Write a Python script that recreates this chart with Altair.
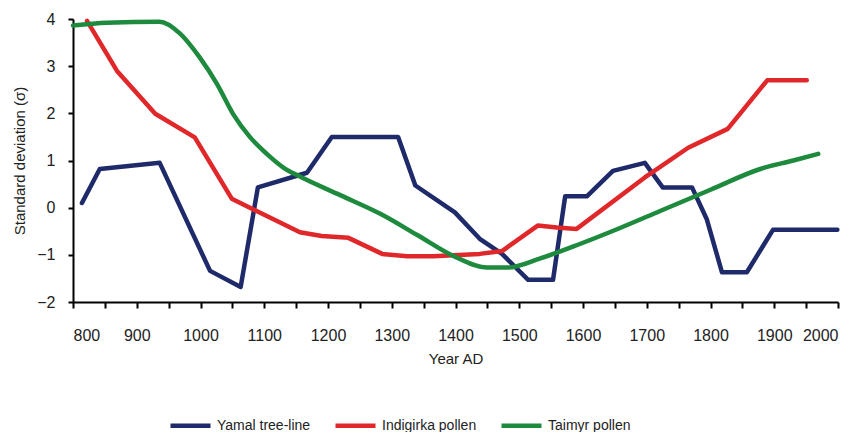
import altair as alt
import pandas as pd

series_names = ["Yamal tree-line", "Indigirka pollen", "Taimyr pollen"]
series_colors = ["#1f2a6b", "#e0282b", "#1e8a3d"]

yamal_year = [814, 842, 936, 1015, 1063, 1090, 1167, 1206, 1310, 1337, 1399, 1438, 1473,
              1514, 1553, 1572, 1606, 1647, 1697, 1725, 1771, 1794, 1818, 1857, 1898, 1999]
yamal_val = [0.1, 0.82, 0.95, -1.34, -1.68, 0.43, 0.74, 1.5, 1.5, 0.47, -0.1, -0.66, -0.98,
             -1.53, -1.53, 0.24, 0.24, 0.78, 0.95, 0.43, 0.43, -0.24, -1.37, -1.37, -0.47, -0.47]

indig_year = [822, 869, 929, 991, 1049, 1100, 1156, 1190, 1232, 1285, 1324, 1365, 1438, 1473,
              1529, 1559, 1590, 1697, 1765, 1827, 1889, 1951]
indig_val = [3.96, 2.9, 1.99, 1.49, 0.19, -0.15, -0.52, -0.6, -0.64, -0.98, -1.03, -1.03, -0.98,
             -0.92, -0.38, -0.42, -0.45, 0.64, 1.27, 1.67, 2.7, 2.7]

taimyr_year = [800, 853, 936, 968, 999, 1026, 1051, 1078, 1104, 1130, 1156, 1220, 1282, 1340,
               1396, 1449, 1481, 1532, 1595, 1660, 1721, 1800, 1878, 1930, 1969]
taimyr_val = [3.86, 3.92, 3.94, 3.69, 3.18, 2.62, 1.99, 1.49, 1.14, 0.85, 0.66, 0.26, -0.13, -0.58,
              -1.02, -1.27, -1.27, -1.08, -0.77, -0.42, -0.07, 0.38, 0.82, 1.0, 1.14]

rows = []
for name, ys, vs in [(series_names[0], yamal_year, yamal_val),
                     (series_names[1], indig_year, indig_val),
                     (series_names[2], taimyr_year, taimyr_val)]:
    for y, v in zip(ys, vs):
        rows.append({"series": name, "year": y, "value": v})
df = pd.DataFrame(rows)

x_ticks = list(range(800, 2001, 50))
FONT = "Liberation Sans"

x_enc = alt.X("year:Q",
              scale=alt.Scale(domain=[800, 2000], nice=False, zero=False),
              axis=alt.Axis(title="Year AD", values=x_ticks,
                            labelExpr="datum.value % 100 == 0 ? datum.label : ''",
                            format="d", grid=False, domainColor="black", domainWidth=2,
                            tickColor="black", tickWidth=2, tickSize=6,
                            labelFontSize=16, labelColor="#222", labelPadding=19,
                            titleFontSize=15, titleFontWeight="normal", titleColor="#222",
                            titlePadding=8, labelFont=FONT, titleFont=FONT))
y_enc = alt.Y("value:Q",
              scale=alt.Scale(domain=[-2, 4], nice=False, zero=False),
              axis=alt.Axis(title="Standard deviation (σ)", values=[-2, -1, 0, 1, 2, 3, 4],
                            grid=False, domainColor="black", domainWidth=2,
                            tickColor="black", tickWidth=2, tickSize=5,
                            labelFontSize=16, labelColor="#222", labelPadding=13,
                            titleFontSize=15, titleFontWeight="normal", titleColor="#222",
                            titlePadding=9, labelFont=FONT, titleFont=FONT))
c_enc = alt.Color("series:N",
                  scale=alt.Scale(domain=series_names, range=series_colors),
                  legend=alt.Legend(title=None, orient="none", legendX=95, legendY=384,
                                    direction="horizontal", symbolType="stroke",
                                    symbolSize=1600, symbolStrokeWidth=4.5,
                                    labelFontSize=14, labelFont=FONT,
                                    labelColor="#222", labelOffset=4, columnPadding=15))

base = alt.Chart(df).encode(x=x_enc, y=y_enc, color=c_enc, order="year:Q")

sharp = base.transform_filter(
    alt.FieldOneOfPredicate(field="series", oneOf=series_names[:2])
).mark_line(strokeWidth=4.5, strokeCap="round", strokeJoin="round")

smooth = base.transform_filter(
    alt.FieldEqualPredicate(field="series", equal=series_names[2])
).mark_line(strokeWidth=4.5, strokeCap="round", interpolate="monotone")

chart = alt.layer(sharp, smooth).properties(
    width=765, height=283,
    autosize=alt.AutoSizeParams(type="none"),
    padding={"left": 65, "top": 11, "right": 10, "bottom": 130},
).configure_view(stroke=None)

chart.save("out.html", embed_options={"renderer": "svg", "actions": False})
